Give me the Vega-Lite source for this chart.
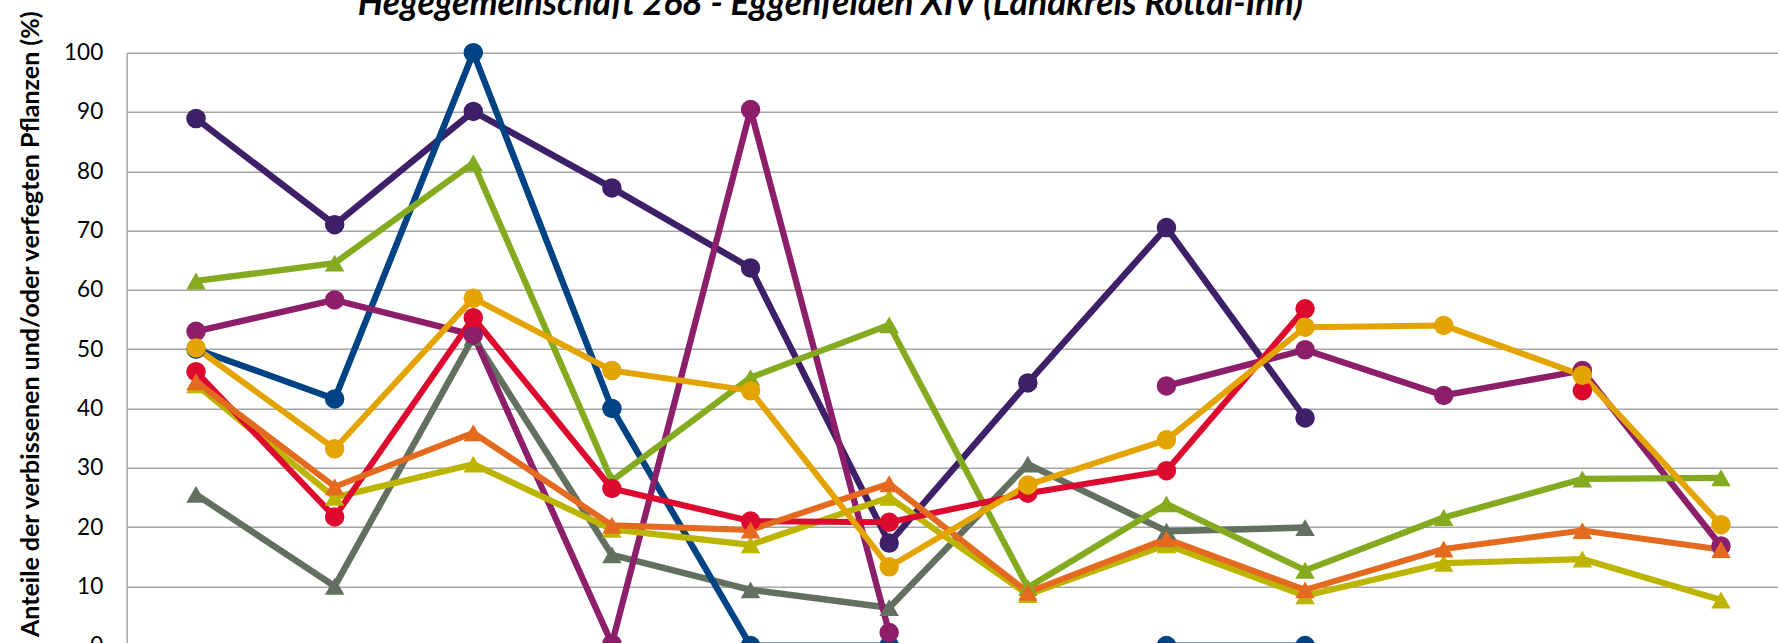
{
  "$schema": "https://vega.github.io/schema/vega-lite/v6.json",
  "autosize": {"type": "none"},
  "padding": {"left": 126.7, "top": 52.7, "right": 0, "bottom": 0},
  "width": 1651.3,
  "height": 590.3,
  "background": "white",
  "config": {"view": {"stroke": null}},
  "title": {
    "text": "Hegegemeinschaft 268 - Eggenfelden XIV (Landkreis Rottal-Inn)",
    "anchor": "start",
    "frame": "group",
    "dx": 231,
    "font": "Lato",
    "fontSize": 35.5,
    "fontStyle": "italic",
    "fontWeight": "bold",
    "color": "#000000",
    "baseline": "alphabetic",
    "offset": 0,
    "dy": 41
  },
  "data": {
    "values": [
      {"jahr": "1991", "serie": "Sonstiges Nadelholz", "wert": 25.5},
      {"jahr": "1994", "serie": "Sonstiges Nadelholz", "wert": 10.0},
      {"jahr": "1997", "serie": "Sonstiges Nadelholz", "wert": 52.0},
      {"jahr": "2000", "serie": "Sonstiges Nadelholz", "wert": 15.3},
      {"jahr": "2003", "serie": "Sonstiges Nadelholz", "wert": 9.4},
      {"jahr": "2006", "serie": "Sonstiges Nadelholz", "wert": 6.4},
      {"jahr": "2009", "serie": "Sonstiges Nadelholz", "wert": 30.6},
      {"jahr": "2012", "serie": "Sonstiges Nadelholz", "wert": 19.3},
      {"jahr": "2015", "serie": "Sonstiges Nadelholz", "wert": 19.9},

      {"jahr": "1991", "serie": "Eiche", "wert": 88.9},
      {"jahr": "1994", "serie": "Eiche", "wert": 71.0},
      {"jahr": "1997", "serie": "Eiche", "wert": 90.1},
      {"jahr": "2000", "serie": "Eiche", "wert": 77.2},
      {"jahr": "2003", "serie": "Eiche", "wert": 63.7},
      {"jahr": "2006", "serie": "Eiche", "wert": 17.3},
      {"jahr": "2009", "serie": "Eiche", "wert": 44.3},
      {"jahr": "2012", "serie": "Eiche", "wert": 70.5},
      {"jahr": "2015", "serie": "Eiche", "wert": 38.4},

      {"jahr": "1991", "serie": "Tanne", "wert": 50.0},
      {"jahr": "1994", "serie": "Tanne", "wert": 41.6},
      {"jahr": "1997", "serie": "Tanne", "wert": 100},
      {"jahr": "2000", "serie": "Tanne", "wert": 40.0},
      {"jahr": "2003", "serie": "Tanne", "wert": 0},
      {"jahr": "2006", "serie": "Tanne", "wert": 0},
      {"jahr": "2009", "serie": "Tanne", "wert": null},
      {"jahr": "2012", "serie": "Tanne", "wert": 0},
      {"jahr": "2015", "serie": "Tanne", "wert": 0},

      {"jahr": "1991", "serie": "Edellaubholz", "wert": 53.0},
      {"jahr": "1994", "serie": "Edellaubholz", "wert": 58.3},
      {"jahr": "1997", "serie": "Edellaubholz", "wert": 52.4},
      {"jahr": "2000", "serie": "Edellaubholz", "wert": 0.3},
      {"jahr": "2003", "serie": "Edellaubholz", "wert": 90.4},
      {"jahr": "2006", "serie": "Edellaubholz", "wert": 2.2},
      {"jahr": "2009", "serie": "Edellaubholz", "wert": null},
      {"jahr": "2012", "serie": "Edellaubholz", "wert": 43.8},
      {"jahr": "2015", "serie": "Edellaubholz", "wert": 49.9},
      {"jahr": "2018", "serie": "Edellaubholz", "wert": 42.2},
      {"jahr": "2021", "serie": "Edellaubholz", "wert": 46.4},
      {"jahr": "2024", "serie": "Edellaubholz", "wert": 16.8},

      {"jahr": "1991", "serie": "Fichte", "wert": 61.5},
      {"jahr": "1994", "serie": "Fichte", "wert": 64.5},
      {"jahr": "1997", "serie": "Fichte", "wert": 81.4},
      {"jahr": "2000", "serie": "Fichte", "wert": 27.8},
      {"jahr": "2003", "serie": "Fichte", "wert": 45.2},
      {"jahr": "2006", "serie": "Fichte", "wert": 54.1},
      {"jahr": "2009", "serie": "Fichte", "wert": 9.8},
      {"jahr": "2012", "serie": "Fichte", "wert": 23.9},
      {"jahr": "2015", "serie": "Fichte", "wert": 12.7},
      {"jahr": "2018", "serie": "Fichte", "wert": 21.6},
      {"jahr": "2021", "serie": "Fichte", "wert": 28.1},
      {"jahr": "2024", "serie": "Fichte", "wert": 28.3},

      {"jahr": "1991", "serie": "Kiefer", "wert": 44.0},
      {"jahr": "1994", "serie": "Kiefer", "wert": 25.0},
      {"jahr": "1997", "serie": "Kiefer", "wert": 30.6},
      {"jahr": "2000", "serie": "Kiefer", "wert": 19.6},
      {"jahr": "2003", "serie": "Kiefer", "wert": 17.0},
      {"jahr": "2006", "serie": "Kiefer", "wert": 25.0},
      {"jahr": "2009", "serie": "Kiefer", "wert": 8.6},
      {"jahr": "2012", "serie": "Kiefer", "wert": 17.0},
      {"jahr": "2015", "serie": "Kiefer", "wert": 8.4},
      {"jahr": "2018", "serie": "Kiefer", "wert": 13.9},
      {"jahr": "2021", "serie": "Kiefer", "wert": 14.6},
      {"jahr": "2024", "serie": "Kiefer", "wert": 7.7},

      {"jahr": "1991", "serie": "Sonstiges Laubholz", "wert": 46.2},
      {"jahr": "1994", "serie": "Sonstiges Laubholz", "wert": 21.7},
      {"jahr": "1997", "serie": "Sonstiges Laubholz", "wert": 55.3},
      {"jahr": "2000", "serie": "Sonstiges Laubholz", "wert": 26.5},
      {"jahr": "2003", "serie": "Sonstiges Laubholz", "wert": 21.0},
      {"jahr": "2006", "serie": "Sonstiges Laubholz", "wert": 20.8},
      {"jahr": "2009", "serie": "Sonstiges Laubholz", "wert": 25.7},
      {"jahr": "2012", "serie": "Sonstiges Laubholz", "wert": 29.5},
      {"jahr": "2015", "serie": "Sonstiges Laubholz", "wert": 56.8},
      {"jahr": "2018", "serie": "Sonstiges Laubholz", "wert": null},
      {"jahr": "2021", "serie": "Sonstiges Laubholz", "wert": 43.0},

      {"jahr": "1991", "serie": "Laubholz gesamt", "wert": 44.5},
      {"jahr": "1994", "serie": "Laubholz gesamt", "wert": 26.8},
      {"jahr": "1997", "serie": "Laubholz gesamt", "wert": 35.9},
      {"jahr": "2000", "serie": "Laubholz gesamt", "wert": 20.3},
      {"jahr": "2003", "serie": "Laubholz gesamt", "wert": 19.5},
      {"jahr": "2006", "serie": "Laubholz gesamt", "wert": 27.3},
      {"jahr": "2009", "serie": "Laubholz gesamt", "wert": 9.0},
      {"jahr": "2012", "serie": "Laubholz gesamt", "wert": 18.0},
      {"jahr": "2015", "serie": "Laubholz gesamt", "wert": 9.4},
      {"jahr": "2018", "serie": "Laubholz gesamt", "wert": 16.3},
      {"jahr": "2021", "serie": "Laubholz gesamt", "wert": 19.4},
      {"jahr": "2024", "serie": "Laubholz gesamt", "wert": 16.2},

      {"jahr": "1991", "serie": "Buche", "wert": 50.2},
      {"jahr": "1994", "serie": "Buche", "wert": 33.2},
      {"jahr": "1997", "serie": "Buche", "wert": 58.6},
      {"jahr": "2000", "serie": "Buche", "wert": 46.4},
      {"jahr": "2003", "serie": "Buche", "wert": 43.0},
      {"jahr": "2006", "serie": "Buche", "wert": 13.3},
      {"jahr": "2009", "serie": "Buche", "wert": 27.1},
      {"jahr": "2012", "serie": "Buche", "wert": 34.7},
      {"jahr": "2015", "serie": "Buche", "wert": 53.7},
      {"jahr": "2018", "serie": "Buche", "wert": 54.0},
      {"jahr": "2021", "serie": "Buche", "wert": 45.6},
      {"jahr": "2024", "serie": "Buche", "wert": 20.4}
    ]
  },
  "encoding": {
    "x": {
      "field": "jahr",
      "type": "ordinal",
      "scale": {"type": "point", "range": [0, 1663.6], "padding": 0.5},
      "axis": null
    },
    "y": {
      "field": "wert",
      "type": "quantitative",
      "scale": {"domain": [0, 100], "range": [592.9, 0], "nice": false, "zero": true},
      "axis": {
        "values": [0, 10, 20, 30, 40, 50, 60, 70, 80, 90, 100],
        "title": "Anteile der verbissenen und/oder verfegten Pflanzen (%)",
        "titleFont": "Lato",
        "titleFontSize": 25,
        "titleFontWeight": "bold",
        "titleColor": "#000000",
        "titleAngle": 270,
        "titleAlign": "center",
        "titleBaseline": "middle",
        "titleX": -96.5,
        "titleY": 271,
        "labelFont": "Lato",
        "labelFontSize": 22.5,
        "labelColor": "#000000",
        "labelPadding": 24,
        "ticks": false,
        "tickSize": 0,
        "grid": true,
        "gridColor": "#A6A6A6",
        "gridWidth": 1.5,
        "domainColor": "#A6A6A6",
        "domainWidth": 1.5
      }
    },
    "color": {
      "field": "serie",
      "type": "nominal",
      "legend": null,
      "scale": {
        "domain": ["Sonstiges Nadelholz", "Eiche", "Tanne", "Edellaubholz", "Fichte", "Kiefer", "Sonstiges Laubholz", "Laubholz gesamt", "Buche"],
        "range": ["#637060", "#3E2068", "#004385", "#8C1E6A", "#84AA1F", "#BDB400", "#DC0A2E", "#E46A20", "#E4A400"]
      }
    }
  },
  "layer": [
    {
      "mark": {"type": "line", "invalid": "break-paths-filter-domains", "strokeJoin": "round"},
      "encoding": {
        "strokeWidth": {
          "field": "serie",
          "type": "nominal",
          "legend": null,
          "scale": {
            "domain": ["Sonstiges Nadelholz", "Eiche", "Tanne", "Edellaubholz", "Fichte", "Kiefer", "Sonstiges Laubholz", "Laubholz gesamt", "Buche"],
            "range": [6.5, 6, 6, 6.5, 7, 7, 7.5, 8, 8]
          }
        }
      }
    },
    {
      "mark": {"type": "point", "filled": true, "opacity": 1, "size": 380},
      "transform": [{"filter": "datum.wert != null"}],
      "encoding": {
        "shape": {
          "field": "serie",
          "type": "nominal",
          "legend": null,
          "scale": {
            "domain": ["Sonstiges Nadelholz", "Eiche", "Tanne", "Edellaubholz", "Fichte", "Kiefer", "Sonstiges Laubholz", "Laubholz gesamt", "Buche"],
            "range": ["triangle-up", "circle", "circle", "circle", "triangle-up", "triangle-up", "circle", "triangle-up", "circle"]
          }
        }
      }
    }
  ]
}
